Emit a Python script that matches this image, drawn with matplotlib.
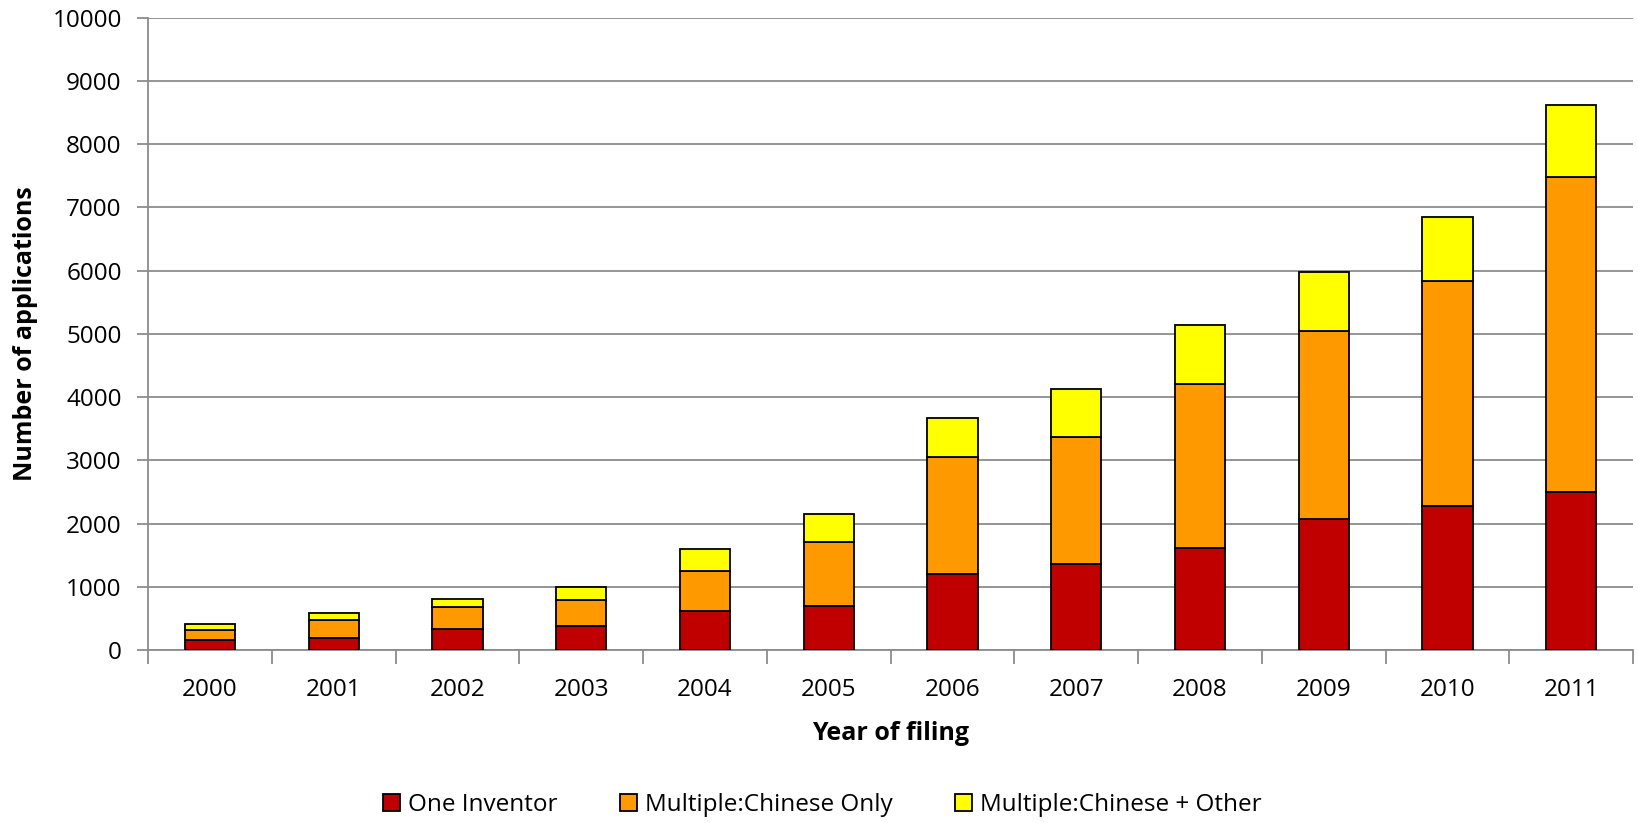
import numpy as np
import matplotlib.pyplot as plt

years = ["2000", "2001", "2002", "2003", "2004", "2005",
         "2006", "2007", "2008", "2009", "2010", "2011"]
one_inventor = [158, 190, 337, 374, 610, 693, 1205, 1353, 1617, 2079, 2277, 2492]
chinese_only = [153, 284, 343, 422, 644, 1007, 1848, 2013, 2591, 2971, 3565, 4983]
chinese_other = [105, 106, 131, 200, 346, 445, 610, 759, 924, 924, 1006, 1139]

series_names = ["One Inventor", "Multiple:Chinese Only", "Multiple:Chinese + Other"]
colors = ["#C00000", "#FF9900", "#FFFF00"]

plt.rcParams['font.family'] = ['Open Sans', 'DejaVu Sans']

fig = plt.figure(figsize=(16.38, 8.23), dpi=100)
ax = fig.add_axes([0.0904, 0.2102, 0.9066, 0.7685])

x = np.arange(len(years))
bottom = np.zeros(len(years))
for vals, name, c in zip([one_inventor, chinese_only, chinese_other], series_names, colors):
    ax.bar(x, vals, width=0.405, bottom=bottom, color=c, edgecolor="black",
           linewidth=1.3, label=name, zorder=3)
    bottom += np.array(vals)

ax.set_xlim(-0.5, len(years) - 0.5)
ax.set_ylim(0, 10000)
ax.set_yticks(np.arange(0, 10001, 1000))
ax.yaxis.grid(True, color="#8c8c8c", linewidth=1.3, zorder=0)

ax.set_xticks(x)
ax.set_xticklabels(years)
ax.set_xticks(np.arange(-0.5, len(years)), minor=True)
ax.tick_params(axis="x", which="major", length=0, labelsize=17.5, pad=20)
ax.tick_params(axis="x", which="minor", length=10, width=1.3, color="#8c8c8c")
ax.tick_params(axis="y", length=8, width=1.3, color="#8c8c8c", labelsize=17.5, pad=11)

for s in ["top", "right"]:
    ax.spines[s].set_visible(False)
for s in ["left", "bottom"]:
    ax.spines[s].set_color("#8c8c8c")
    ax.spines[s].set_linewidth(1.3)

ax.set_xlabel("Year of filing", fontsize=18, fontweight="bold")
ax.xaxis.set_label_coords(0.5, -0.112)
ax.set_ylabel("Number of applications", fontsize=18, fontweight="bold")
ax.yaxis.set_label_coords(-0.074, 0.5)

fig.legend(loc="center", bbox_to_anchor=(0.502, 0.022), ncol=3, frameon=False,
           fontsize=17.5, handlelength=0.7, handleheight=0.7, handletextpad=0.3,
           columnspacing=2.6)

fig.savefig("out.png", dpi=100)
